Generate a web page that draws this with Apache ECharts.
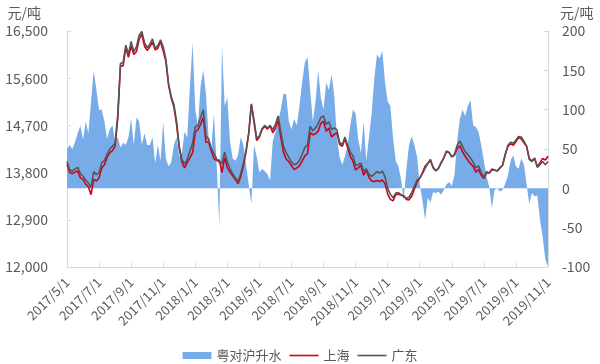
<!DOCTYPE html>
<html>
<head>
<meta charset="utf-8">
<script src="https://cdn.jsdelivr.net/npm/echarts@6/dist/echarts.min.js"></script>
<style>html,body{margin:0;padding:0;background:#fff}#c{width:600px;height:364px}</style>
</head>
<body>
<div id="c"></div>
<script>
// Sampling grid: days 1,6,11,16,21,26 of each month, 2017/5 .. 2019/10, plus 2019/11/1
const sampleDays = [1, 6, 11, 16, 21, 26];
const startYear = 2017, startMonth = 5, monthCount = 30;
const dates = [];
for (let k = 0; k < monthCount; k++) {
  const y = startYear + Math.floor((startMonth - 1 + k) / 12);
  const m = (startMonth - 1 + k) % 12 + 1;
  sampleDays.forEach(d => dates.push(y + '/' + m + '/' + d));
}
dates.push('2019/11/1');

const seriesNames = ['粤对沪升水', '上海', '广东'];

// 粤对沪升水 (right axis, 元/吨)
const premium = [
  50,55,50,59,70,80, 62,85,70,110,150,125, 100,100,85,63,75,80,
  60,65,52,58,55,65, 88,55,90,85,55,70, 55,55,65,32,55,35,
  84,38,28,33,55,65, 40,45,72,65,130,185, 100,80,130,150,120,65,
  50,95,30,-48,180,105, 115,60,38,35,42,65, 55,30,5,-20,55,40,
  20,25,22,18,10,60, 72,85,100,120,120,85, 75,88,80,105,135,160,
  167,125,85,110,150,115, 100,135,125,145,118,65, 40,30,40,55,80,100,
  95,62,45,85,35,65, 95,140,170,165,175,135, 110,105,65,35,28,12,
  -15,25,55,66,55,40, 5,-15,-40,-12,-18,-5, -6,-4,-8,-2,5,8,
  3,17,60,88,100,92, 105,112,80,78,72,55, 35,15,2,-25,-2,0,
  -4,-2,6,16,35,42, 28,25,38,30,5,-20, -6,-10,-9,-40,-62,-90,
  -100
];

// 上海 (left axis, 元/吨)
const shanghai = [
  13960,13800,13780,13810,13830,13700, 13670,13580,13530,13380,13670,13640,
  13700,13890,13950,14090,14180,14220, 14300,14840,15830,15840,16180,16000,
  16210,16050,16110,16340,16440,16210, 16130,16200,16290,16140,16170,16300,
  16120,15920,15470,15220,15050,14720, 14260,14000,13890,13990,14080,14180,
  14570,14620,14720,14850,14380,14380, 14210,14070,14030,14040,13800,14090,
  13890,13810,13740,13670,13590,13720, 13930,14190,14550,15110,14750,14410,
  14480,14620,14680,14630,14690,14560, 14650,14800,14480,14190,14060,14010,
  13930,13860,13890,13930,14020,14120, 14160,14560,14520,14540,14590,14740,
  14780,14590,14650,14480,14530,14560, 14340,14300,14440,14280,14110,14020,
  13850,13890,13940,13750,13840,13710, 13640,13630,13650,13630,13660,13590,
  13390,13290,13260,13380,13390,13370, 13360,13290,13280,13350,13490,13620,
  13690,13800,13920,13980,14050,13900, 13840,13880,13990,14080,14200,14180,
  14100,14130,14260,14310,14200,14110, 14040,13970,13920,13810,13860,13750,
  13690,13800,13790,13870,13850,13830, 13890,13940,14140,14300,14350,14320,
  14390,14470,14440,14370,14300,14070, 14020,14080,13910,13990,14070,14040,
  14110
];

// 广东 (left axis, 元/吨)
const guangdong = [
  14010,13850,13830,13870,13900,13780, 13730,13660,13600,13520,13820,13760,
  13800,13990,14030,14150,14250,14300, 14360,14900,15880,15900,16230,16060,
  16300,16100,16200,16420,16490,16280, 16180,16250,16350,16170,16220,16330,
  16200,15960,15500,15250,15100,14780, 14300,14050,13960,14050,14210,14360,
  14670,14700,14850,15000,14500,14440, 14260,14160,14060,13990,13980,14190,
  14000,13870,13780,13700,13630,13780, 13980,14220,14550,15090,14800,14450,
  14500,14640,14700,14650,14700,14620, 14720,14880,14580,14310,14180,14090,
  14000,13950,13970,14030,14150,14280, 14330,14680,14600,14650,14740,14850,
  14880,14720,14770,14620,14650,14620, 14380,14330,14480,14330,14190,14120,
  13940,13950,13980,13830,13870,13770, 13730,13770,13820,13790,13830,13720,
  13500,13390,13320,13410,13420,13380, 13340,13310,13330,13420,13540,13660,
  13690,13780,13880,13970,14030,13890, 13830,13880,13980,14080,14210,14190,
  14100,14150,14320,14400,14300,14200, 14140,14080,14000,13890,13930,13800,
  13720,13820,13790,13850,13850,13830, 13890,13940,14150,14320,14380,14360,
  14420,14490,14480,14400,14300,14050, 14010,14070,13900,13950,14010,13950,
  14010
];

const leftAxis = { min: 12000, max: 16500, interval: 900 };
const rightAxis = { min: -100, max: 200, interval: 50 };
const unitName = '元/吨';

const FONT = '"Noto Sans CJK SC", "Noto Sans", sans-serif';
const TXT = '#595959';
const AXIS = '#D9D9D9';
const BLUE = '#78ACE9', RED = '#D0021B', GRAY = '#555555';
const LINE_ICON = 'path://M0,0L0,0M0,2.7L29,2.7L29,4.3L0,4.3ZM0,7L0,7';
const isLabelDate = (v) => /^\d{4}\/(1|3|5|7|9|11)\/1$/.test(v);
const fmtThousands = (v) => String(v).replace(/\B(?=(\d{3})+(?!\d))/g, ',');

const chart = echarts.init(document.getElementById('c'), null, { renderer: 'canvas' });
chart.setOption({
  animation: false,
  textStyle: { fontFamily: FONT },
  grid: { left: 67, right: 52, top: 31, bottom: 97, containLabel: false },
  legend: {
    top: 344, left: 'center',
    itemWidth: 29, itemHeight: 7, itemGap: 8,
    textStyle: { fontFamily: FONT, fontSize: 13, color: TXT },
    data: [
      { name: seriesNames[0], icon: 'rect', itemStyle: { color: BLUE } },
      { name: seriesNames[1], icon: LINE_ICON, itemStyle: { color: RED } },
      { name: seriesNames[2], icon: LINE_ICON, itemStyle: { color: GRAY } }
    ]
  },
  xAxis: {
    type: 'category',
    data: dates,
    boundaryGap: false,
    axisLine: { onZero: false, lineStyle: { color: AXIS, width: 1 } },
    axisTick: { inside: true, length: 4, interval: (i, v) => isLabelDate(v), lineStyle: { color: AXIS } },
    axisLabel: {
      interval: (i, v) => isLabelDate(v),
      rotate: 45, margin: 13,
      fontFamily: FONT, fontSize: 13, color: TXT
    },
    splitLine: { show: false }
  },
  yAxis: [
    {
      type: 'value', position: 'left',
      min: leftAxis.min, max: leftAxis.max, interval: leftAxis.interval,
      name: unitName, nameLocation: 'end', nameGap: 11,
      nameTextStyle: { fontFamily: FONT, fontSize: 14, color: TXT, align: 'right', padding: [0, 26, 0, 0] },
      axisLine: { show: true, lineStyle: { color: AXIS } },
      axisTick: { show: true, inside: true, length: 4, lineStyle: { color: AXIS } },
      axisLabel: { margin: 19, fontFamily: FONT, fontSize: 14, color: TXT, formatter: fmtThousands },
      splitLine: { show: false }
    },
    {
      type: 'value', position: 'right',
      min: rightAxis.min, max: rightAxis.max, interval: rightAxis.interval,
      name: unitName, nameLocation: 'end', nameGap: 11,
      nameTextStyle: { fontFamily: FONT, fontSize: 14, color: TXT, align: 'left', padding: [0, 0, 0, 12] },
      axisLine: { show: true, lineStyle: { color: AXIS } },
      axisTick: { show: true, inside: true, length: 4, lineStyle: { color: AXIS } },
      axisLabel: { margin: 14, fontFamily: FONT, fontSize: 14, color: TXT },
      splitLine: { show: false }
    }
  ],
  series: [
    {
      name: seriesNames[0], type: 'line', yAxisIndex: 1,
      data: premium, symbol: 'none',
      lineStyle: { width: 0, color: BLUE },
      itemStyle: { color: BLUE },
      areaStyle: { color: BLUE, opacity: 1, origin: 0 },
      z: 1
    },
    {
      name: seriesNames[1], type: 'line', yAxisIndex: 0,
      data: shanghai, symbol: 'none',
      lineStyle: { width: 1.6, color: RED },
      itemStyle: { color: RED },
      z: 2
    },
    {
      name: seriesNames[2], type: 'line', yAxisIndex: 0,
      data: guangdong, symbol: 'none',
      lineStyle: { width: 1.6, color: GRAY },
      itemStyle: { color: GRAY },
      z: 3
    }
  ]
});
</script>
</body>
</html>
